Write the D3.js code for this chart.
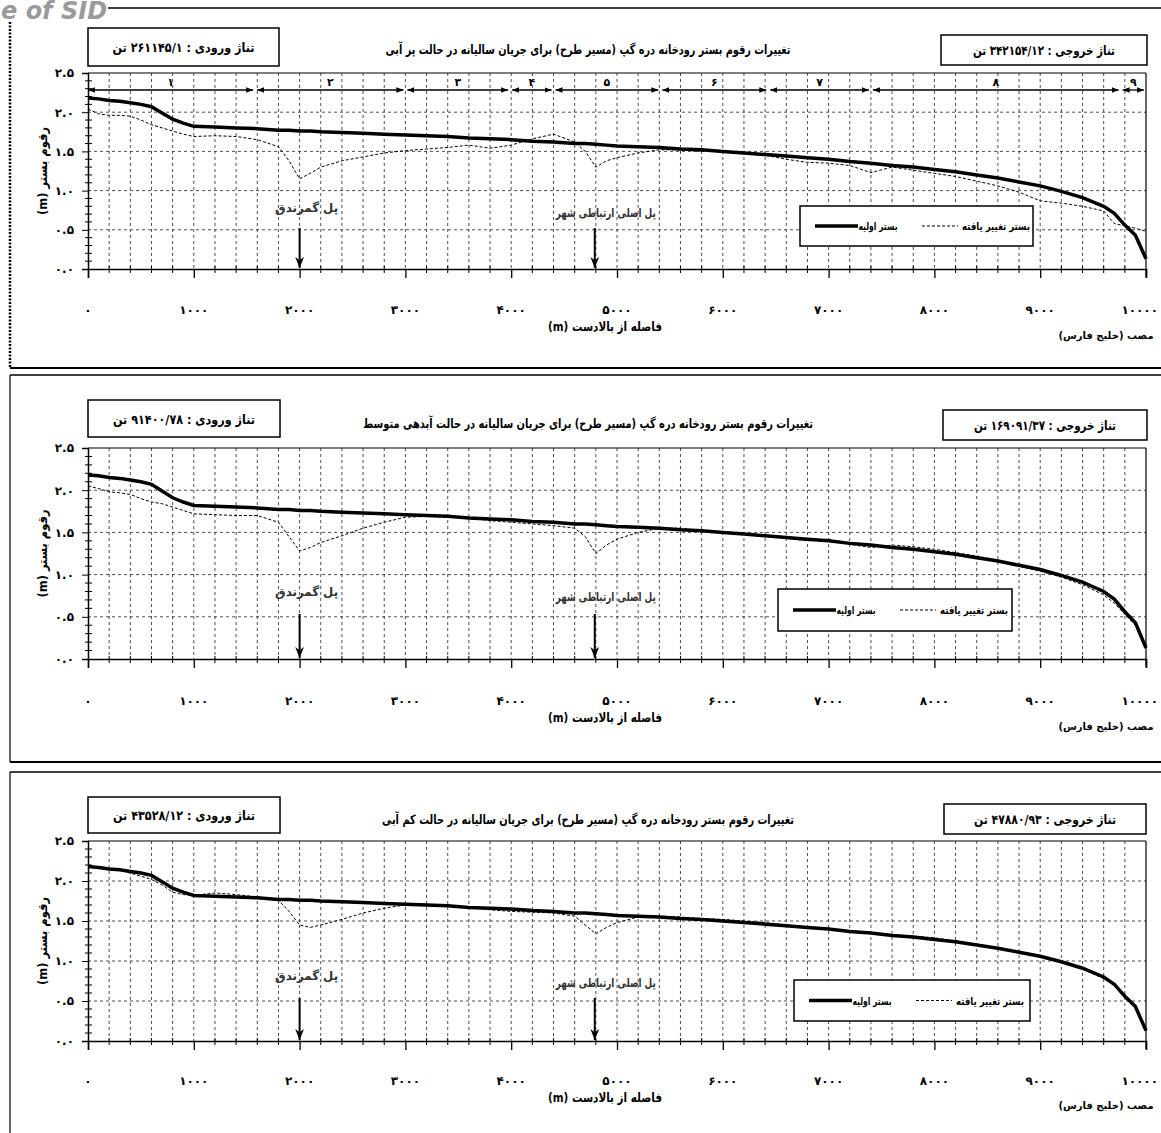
<!DOCTYPE html>
<html>
<head>
<meta charset="utf-8">
<script src="https://cdn.jsdelivr.net/npm/d3@7"></script>
<style>
  body { margin: 0; background: #fff; }
  text { font-family: "DejaVu Sans", sans-serif; font-weight: bold; }
</style>
</head>
<body>
<svg id="chart" width="1161" height="1133"></svg>
<script>
// distance from upstream (m)
const distance = [0,100,200,300,400,500,600,700,800,900,1000,1200,1400,1600,1800,1900,2000,2100,2200,2400,2600,2800,3000,3200,3400,3600,3800,4000,4200,4400,4600,4700,4800,4900,5000,5200,5400,5600,5800,6000,6200,6400,6600,6800,7000,7200,7400,7600,7800,8000,8200,8400,8600,8800,9000,9200,9400,9600,9700,9800,9900,10000];

// initial bed level (m)
const initialBed = [2.18,2.17,2.15,2.14,2.12,2.10,2.07,1.99,1.91,1.86,1.82,1.81,1.80,1.79,1.77,1.77,1.76,1.76,1.75,1.74,1.73,1.72,1.71,1.70,1.69,1.67,1.66,1.65,1.63,1.62,1.60,1.60,1.59,1.58,1.57,1.56,1.55,1.53,1.52,1.50,1.48,1.46,1.44,1.42,1.40,1.37,1.35,1.32,1.30,1.27,1.24,1.20,1.16,1.11,1.06,0.99,0.91,0.80,0.71,0.56,0.43,0.13];

// changed bed, high flow / mean flow / low flow
const changedHigh = [2.04,1.98,1.96,1.96,1.95,1.90,1.84,1.80,1.76,1.72,1.69,1.70,1.69,1.65,1.56,1.38,1.15,1.22,1.30,1.38,1.43,1.48,1.51,1.53,1.55,1.58,1.54,1.58,1.66,1.72,1.62,1.50,1.30,1.38,1.42,1.48,1.52,1.52,1.50,1.50,1.47,1.45,1.40,1.36,1.35,1.32,1.23,1.30,1.26,1.22,1.18,1.12,1.06,0.98,0.87,0.84,0.80,0.74,0.58,0.55,0.52,0.48];
const changedMean = [2.05,2.02,1.98,1.97,1.95,1.90,1.86,1.84,1.80,1.76,1.72,1.71,1.70,1.70,1.62,1.45,1.28,1.32,1.38,1.46,1.55,1.62,1.68,1.69,1.68,1.67,1.64,1.62,1.60,1.58,1.55,1.45,1.25,1.35,1.42,1.50,1.55,1.55,1.52,1.50,1.48,1.46,1.43,1.40,1.42,1.36,1.32,1.35,1.33,1.30,1.26,1.22,1.17,1.10,1.04,0.97,0.88,0.76,0.66,0.53,0.40,0.15];
const changedLow = [2.18,2.17,2.15,2.14,2.10,2.06,2.02,1.95,1.86,1.83,1.82,1.85,1.83,1.80,1.76,1.62,1.45,1.42,1.45,1.52,1.60,1.66,1.70,1.70,1.69,1.67,1.64,1.62,1.61,1.60,1.56,1.45,1.34,1.42,1.48,1.55,1.56,1.55,1.53,1.52,1.50,1.48,1.45,1.42,1.40,1.38,1.35,1.33,1.31,1.29,1.25,1.21,1.16,1.10,1.05,0.98,0.90,0.78,0.70,0.54,0.42,0.14];

// river reaches (panel 1)
const sectionBounds = [0,1580,3000,3990,4400,5410,6430,7400,9760,10000];
const sectionLabels = ["۱","۲","۳","۴","۵","۶","۷","۸","۹"];

const bridgeAt = [2000, 4790];
const bridgeNames = ["پل گمرندق", "پل اصلی ارتباطی شهر"];

const panelTitles = [
  "تغییرات رقوم بستر رودخانه دره گپ (مسیر طرح) برای جریان سالیانه در حالت پر آبی",
  "تغییرات رقوم بستر رودخانه دره گپ (مسیر طرح) برای جریان سالیانه در حالت آبدهی متوسط",
  "تغییرات رقوم بستر رودخانه دره گپ (مسیر طرح) برای جریان سالیانه در حالت کم آبی"
];
const inflowText = ["تناژ ورودی : ۲۶۱۱۴۵/۱ تن", "تناژ ورودی : ۹۱۴۰۰/۷۸ تن", "تناژ ورودی : ۴۳۵۲۸/۱۲ تن"];
const outflowText = ["تناژ خروجی : ۳۴۲۱۵۴/۱۲ تن", "تناژ خروجی : ۱۶۹۰۹۱/۳۷ تن", "تناژ خروجی : ۴۷۸۸۰/۹۳ تن"];
const legendLabels = ["بستر اولیه", "بستر تغییر یافته"];

const xTicks = [0,1000,2000,3000,4000,5000,6000,7000,8000,9000,10000];
const yTicks = [0,0.5,1.0,1.5,2.0,2.5];

const fa = s => String(s).replace(/\d/g, d => "۰۱۲۳۴۵۶۷۸۹"[d]);

const svg = d3.select("#chart");

// right-to-left label squeezed to the width it has in the scan
function rtl(g, x, y, str, size, len, anchor) {
  const t = g.append("text").attr("x", x).attr("y", y)
    .attr("text-anchor", anchor || "middle").attr("direction", "rtl")
    .attr("font-size", size).text(str);
  if (len) t.attr("textLength", len).attr("lengthAdjust", "spacingAndGlyphs");
  return t;
}

// arrow heads
const defs = svg.append("defs");
defs.append("marker").attr("id", "ah").attr("viewBox", "0 0 10 10")
  .attr("refX", 10).attr("refY", 5).attr("markerWidth", 7).attr("markerHeight", 7)
  .attr("orient", "auto-start-reverse").attr("markerUnits", "userSpaceOnUse")
  .append("path").attr("d", "M0,1L10,5L0,9Z").attr("fill", "#000");
defs.append("marker").attr("id", "ahb").attr("viewBox", "0 0 10 10")
  .attr("refX", 10).attr("refY", 5).attr("markerWidth", 11).attr("markerHeight", 11)
  .attr("orient", "auto").attr("markerUnits", "userSpaceOnUse")
  .append("path").attr("d", "M0,1L10,5L0,9L3,5Z").attr("fill", "#000");

const panels = [
  {top: 8, bottom: 368, y25: 73, y0: 269, labelY: 314, xTitleY: 331, mouthY: 339,
   leftBox: [88, 28, 279, 66], rightBox: [941, 35, 1147, 65], titleY: 54, titleLen: 405,
   legend: [800, 206, 1033, 246], bridgeY: [212, 217], arrowTop: 228, sections: true,
   changed: changedHigh, dottedLeft: true},
  {top: 375, bottom: 762, y25: 448, y0: 659, labelY: 705, xTitleY: 722, mouthY: 730,
   leftBox: [88, 400, 280, 437], rightBox: [943, 410, 1147, 440], titleY: 428, titleLen: 450,
   legend: [778, 589, 1012, 631], bridgeY: [596, 601], arrowTop: 614, sections: false,
   changed: changedMean},
  {top: 772, bottom: 1140, y25: 841, y0: 1041, labelY: 1085, xTitleY: 1102, mouthY: 1109,
   leftBox: [88, 797, 280, 833], rightBox: [944, 804, 1146, 834], titleY: 824, titleLen: 412,
   legend: [794, 980, 1030, 1021], bridgeY: [980, 987], arrowTop: 998, sections: false,
   changed: changedLow}
];

const x = d3.scaleLinear().domain([0, 10000]).range([88, 1146]);

panels.forEach((p, i) => {
  const g = svg.append("g");
  const y = d3.scaleLinear().domain([0, 2.5]).range([p.y0, p.y25]);

  // outer frame
  g.append("line").attr("x1", 10).attr("x2", 1165).attr("y1", p.top).attr("y2", p.top)
    .attr("stroke", "#000").attr("stroke-width", 1.5);
  g.append("line").attr("x1", 10).attr("x2", 1165).attr("y1", p.bottom).attr("y2", p.bottom)
    .attr("stroke", "#000").attr("stroke-width", 2);
  g.append("line").attr("x1", 10).attr("x2", 10).attr("y1", p.top).attr("y2", p.bottom)
    .attr("stroke", "#000").attr("stroke-width", p.dottedLeft ? 2.5 : 1.2)
    .attr("stroke-dasharray", p.dottedLeft ? "2,1.5" : null);

  // grid
  g.append("g").selectAll("line").data(d3.range(200, 10000, 200)).join("line")
    .attr("x1", d => x(d)).attr("x2", d => x(d)).attr("y1", p.y25).attr("y2", p.y0)
    .attr("stroke", "#222").attr("stroke-width", 0.8).attr("stroke-dasharray", "3,3");
  g.append("g").selectAll("line").data([0.5, 1.0, 1.5, 2.0]).join("line")
    .attr("x1", x(0)).attr("x2", x(10000)).attr("y1", d => y(d)).attr("y2", d => y(d))
    .attr("stroke", "#222").attr("stroke-width", 0.8).attr("stroke-dasharray", "3,3");

  // plot frame top/right
  g.append("line").attr("x1", x(0)).attr("x2", x(10000)).attr("y1", y(2.5)).attr("y2", y(2.5))
    .attr("stroke", "#000").attr("stroke-width", 1.2);
  g.append("line").attr("x1", x(10000)).attr("x2", x(10000)).attr("y1", y(2.5)).attr("y2", y(0) + 8)
    .attr("stroke", "#000").attr("stroke-width", 1.2);

  // y axis
  const ya = g.append("g").attr("transform", `translate(${x(0)},0)`)
    .call(d3.axisLeft(y).tickValues(yTicks).tickSize(6).tickPadding(8)
      .tickFormat(d => fa(d.toFixed(1))));
  ya.select(".domain").attr("stroke-width", 1.5);
  ya.selectAll("text").attr("font-size", 12).attr("font-family", "DejaVu Sans");
  g.append("g").selectAll("line").data(d3.range(1, 25).filter(k => k % 5)).join("line")
    .attr("x1", x(0) - 3).attr("x2", x(0) + 4).attr("y1", k => y(k / 10)).attr("y2", k => y(k / 10))
    .attr("stroke", "#000");

  // x axis
  const xa = g.append("g").attr("transform", `translate(0,${y(0)})`)
    .call(d3.axisBottom(x).tickValues(xTicks).tickSize(9).tickFormat(""));
  xa.select(".domain").attr("stroke-width", 1.5);
  xa.selectAll(".tick line").attr("stroke-width", 1.3);
  g.append("g").selectAll("line").data(d3.range(200, 10000, 200).filter(d => d % 1000)).join("line")
    .attr("x1", d => x(d)).attr("x2", d => x(d)).attr("y1", y(0) - 3).attr("y2", y(0) + 4)
    .attr("stroke", "#000");
  g.append("g").selectAll("text").data(xTicks).join("text")
    .attr("x", d => d === 10000 ? 1158 : x(d)).attr("y", p.labelY)
    .attr("text-anchor", d => d === 10000 ? "end" : "middle")
    .attr("font-size", 12).text(d => fa(d));

  // axis titles
  rtl(g, 0, 0, "رقوم بستر (m)", 13, 88)
    .attr("transform", `translate(47,${(p.y25 + p.y0) / 2}) rotate(-90)`);
  rtl(g, 605, p.xTitleY, "فاصله از بالادست (m)", 13, 114);
  rtl(g, 1106, p.mouthY, "مصب (خلیج فارس)", 10);

  // title and tonnage boxes
  rtl(g, 588, p.titleY, panelTitles[i], 13, p.titleLen);
  [[p.leftBox, inflowText[i]], [p.rightBox, outflowText[i]]].forEach(([b, t]) => {
    g.append("rect").attr("x", b[0]).attr("y", b[1]).attr("width", b[2] - b[0]).attr("height", b[3] - b[1])
      .attr("fill", "#fff").attr("stroke", "#000").attr("stroke-width", 1.5);
    rtl(g, (b[0] + b[2]) / 2, (b[1] + b[3]) / 2 + 5, t, 13, 142);
  });

  // reaches
  if (p.sections) {
    const ay = 90;
    d3.range(sectionLabels.length).forEach(k => {
      const a = x(sectionBounds[k]) + (k ? 2 : 0), b = x(sectionBounds[k + 1]) - 2;
      g.append("line").attr("x1", a).attr("x2", b).attr("y1", ay).attr("y2", ay)
        .attr("stroke", "#000").attr("stroke-width", 1.3)
        .attr("marker-start", "url(#ah)").attr("marker-end", "url(#ah)");
      g.append("text").attr("x", (a + b) / 2).attr("y", 86).attr("text-anchor", "middle")
        .attr("font-size", 11).text(sectionLabels[k]);
    });
  }

  // bed lines
  const line = d3.line().x((d, k) => x(distance[k])).y(d => y(d));
  g.append("path").datum(p.changed).attr("d", line).attr("fill", "none")
    .attr("stroke", "#000").attr("stroke-width", 1).attr("stroke-dasharray", "3,2");
  g.append("path").datum(initialBed).attr("d", line).attr("fill", "none")
    .attr("stroke", "#000").attr("stroke-width", 3.5);

  // bridges
  bridgeAt.forEach((b, k) => {
    g.append("line").attr("x1", x(b)).attr("x2", x(b)).attr("y1", p.arrowTop).attr("y2", y(0) - 1)
      .attr("stroke", "#000").attr("stroke-width", 2).attr("marker-end", "url(#ahb)");
    rtl(g, x(b) + (k ? 11 : 7), p.bridgeY[k], bridgeNames[k], 12, k ? 100 : 63)
      .attr("fill", "#333");
  });

  // legend
  const L = p.legend;
  g.append("rect").attr("x", L[0]).attr("y", L[1]).attr("width", L[2] - L[0]).attr("height", L[3] - L[1])
    .attr("fill", "#fff").attr("stroke", "#000").attr("stroke-width", 1.5);
  const ly = (L[1] + L[3]) / 2;
  g.append("line").attr("x1", L[0] + 15).attr("x2", L[0] + 58).attr("y1", ly).attr("y2", ly)
    .attr("stroke", "#000").attr("stroke-width", 3.5);
  rtl(g, L[0] + 78, ly + 4, legendLabels[0], 11, 39);
  g.append("line").attr("x1", L[0] + 122).attr("x2", L[0] + 158).attr("y1", ly).attr("y2", ly)
    .attr("stroke", "#000").attr("stroke-width", 1).attr("stroke-dasharray", "3,2");
  rtl(g, L[0] + 196, ly + 4, legendLabels[1], 11, 68);
});

// watermark
svg.append("rect").attr("x", 0).attr("y", 0).attr("width", 108).attr("height", 22).attr("fill", "#fff");
svg.append("text").attr("x", 1).attr("y", 19).attr("font-family", "Liberation Serif")
  .attr("font-style", "italic").attr("font-size", 24).attr("fill", "#9a9a9a").text("e of SID");
</script>
</body>
</html>
